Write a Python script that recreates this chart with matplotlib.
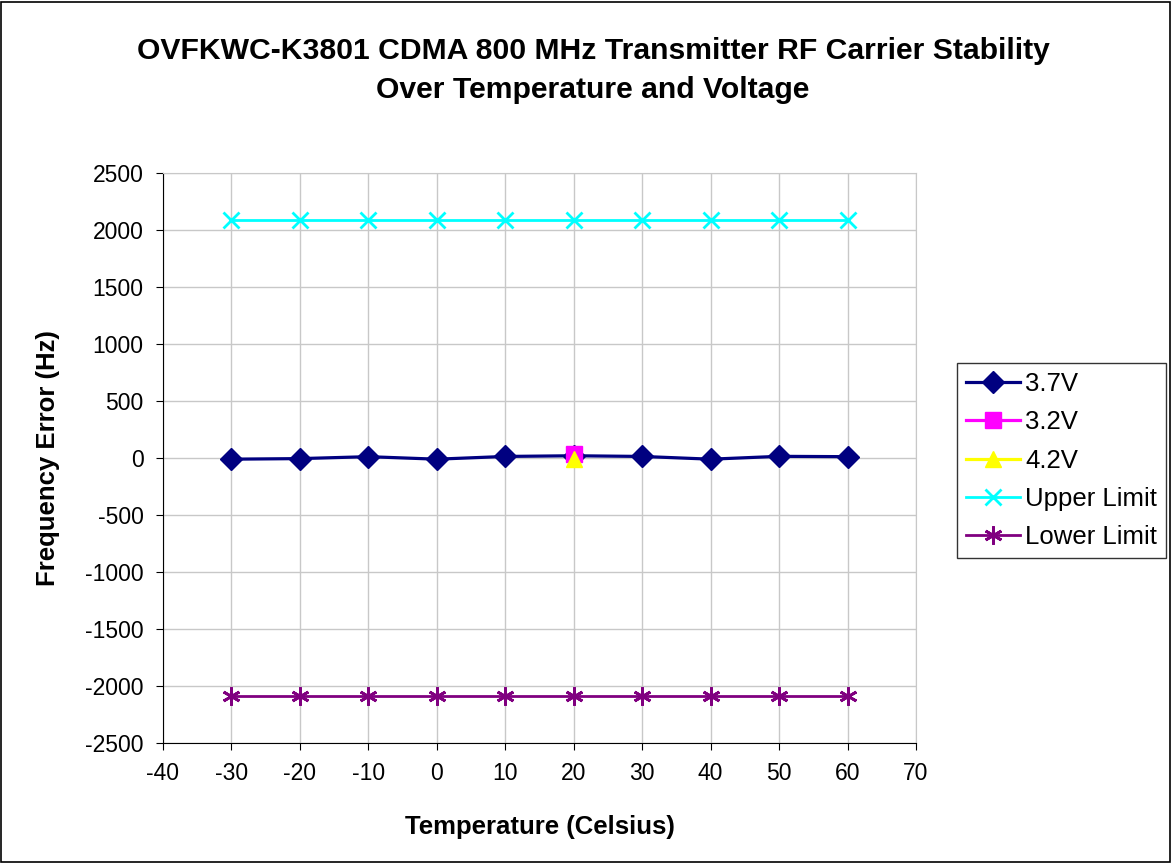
import matplotlib
matplotlib.use("Agg")
import matplotlib.pyplot as plt
from matplotlib.patches import Rectangle

plt.rcParams['font.family'] = ['Liberation Sans', 'DejaVu Sans']
plt.rcParams['axes.unicode_minus'] = False

temps = [-30, -20, -10, 0, 10, 20, 30, 40, 50, 60]
v37 = [-10, -5, 12, -10, 14, 20, 14, -10, 15, 12]
v32_t = [20]
v32 = [35]
v42_t = [20]
v42 = [-5]
upper = [2090] * len(temps)
lower = [-2090] * len(temps)

fig = plt.figure(figsize=(11.72, 8.63), dpi=100)
ax = fig.add_axes([0.139, 0.139, 0.6426, 0.6605])

ax.plot(temps, v37, color="#000080", lw=2.3, marker="D", ms=11, label="3.7V")
ax.plot(v32_t, v32, color="#FF00FF", lw=2.3, marker="s", ms=11, label="3.2V")
ax.plot(v42_t, v42, color="#FFFF00", lw=2.3, marker="^", ms=11, label="4.2V")
ax.plot(temps, upper, color="#00FFFF", lw=2, marker="x", ms=11, mew=2, label="Upper Limit")
ax.plot(temps, lower, color="#800080", lw=2, marker=(6, 2, 0), ms=13, mew=2, label="Lower Limit")

ax.set_xlim(-40, 70)
ax.set_ylim(-2500, 2500)
ax.set_xticks(range(-40, 71, 10))
ax.set_yticks(range(-2500, 2501, 500))
ax.grid(True, color="#c8c8c8", lw=1)
ax.set_axisbelow(True)
for s in ["top", "right"]:
    ax.spines[s].set_color("#c8c8c8")
for s in ["left", "bottom"]:
    ax.spines[s].set_color("black")
ax.tick_params(labelsize=16.5, direction="out", length=5, pad=9)

ax.set_xlabel("Temperature (Celsius)", fontsize=18.5, fontweight="bold")
ax.set_ylabel("Frequency Error (Hz)", fontsize=18.5, fontweight="bold")
ax.xaxis.set_label_coords(0.5, -0.126)
ax.yaxis.set_label_coords(-0.136, 0.5)

fig.text(0.506, 0.918, "OVFKWC-K3801 CDMA 800 MHz Transmitter RF Carrier Stability\nOver Temperature and Voltage",
         ha="center", va="center", fontsize=21.7, fontweight="bold", linespacing=1.5)

leg = fig.legend(loc="upper left", bbox_to_anchor=(0.8166, 0.579), fontsize=18.5,
                 frameon=True, fancybox=False, edgecolor="black", borderpad=0.35,
                 handlelength=2.1, handletextpad=0.2, labelspacing=0.55, borderaxespad=0)
leg.get_frame().set_linewidth(1)

fig.patches.append(Rectangle((0.001, 0.001), 0.997, 0.997, transform=fig.transFigure,
                             fill=False, edgecolor="black", lw=1.2))

fig.savefig("out.png", dpi=100)
